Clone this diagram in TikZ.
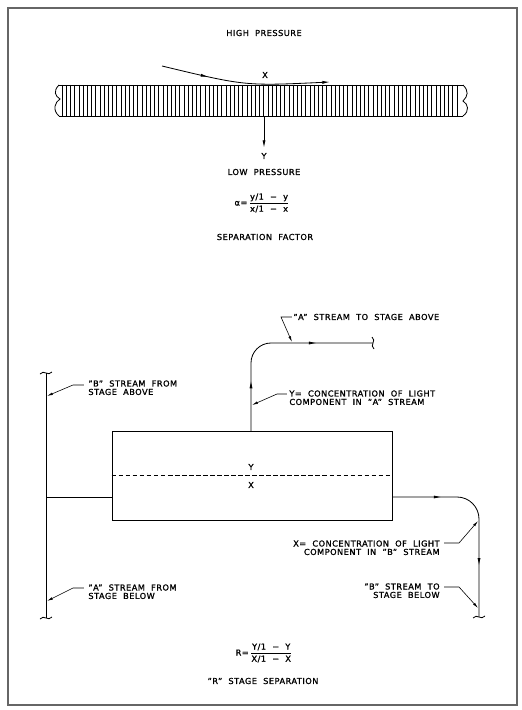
\documentclass[tikz,border=0pt]{standalone}
\usepackage{fontspec}
\setmainfont{DejaVu Sans}[LetterSpace=6,WordSpace=2,FakeBold=1.2]
\usetikzlibrary{arrows.meta,decorations.markings}

\tikzset{
  lbl/.style={inner sep=0pt, font=\fontsize{7}{7.2}\selectfont},
  lead/.style={line width=0.5pt, shorten <=1pt, -{Latex[length=5pt,width=2.2pt]}},
  flowmarks/.style 2 args={postaction={decorate},
    decoration={markings,
      mark=at position #1 with {\arrow{Latex[length=6.5pt,width=2.6pt]}},
      mark=at position #2 with {\arrow{Latex[length=6.5pt,width=2.6pt]}}}},
  brk/.pic={\draw[line width=0.7pt] (-6,1) .. controls (-2,-4) and (2,4) .. (6,-1);}
}

\begin{document}
\begin{tikzpicture}[x=0.03cm, y=-0.03cm, line width=0.7pt]
    \useasboundingbox (0,0) rectangle (521,710);
    \draw[line width=1.6pt, black!60] (8,8) rectangle (517,705);

    % membrane
    \node[lbl] (high) at (264,33) {HIGH PRESSURE};
    \draw (59,85) -- (463,85);
    \draw (59,116) -- (463,116);
    \foreach \i in {62,66.2,...,459}
      \draw[line width=0.45pt] (\i,85) -- (\i,116);
    \draw (59,85) .. controls (53,91) and (55,96) .. (60,99)
      .. controls (55,102) and (52,110) .. (59,116);
    \draw (463,85) .. controls (469,91) and (468,96) .. (463,101)
      .. controls (468,104) and (470,111) .. (463,116);
    \coordinate (xs) at (162,66);
    \coordinate (xe) at (330,82);
    \draw[postaction={decorate},
      decoration={markings,mark=at position 0.28 with {\arrow{Latex[length=6.5pt,width=2.6pt]}}},
      -{Latex[length=6.5pt,width=2.6pt]}] (xs) .. controls (245,86) .. (xe);
    \node[lbl] (xtop) at (265,75) {X};
    \coordinate (ys) at (264,116);
    \node[lbl] (ybot) at (264,156) {Y};
    \draw[shorten >=4pt, -{Latex[length=6.5pt,width=2.6pt]}] (ys) -- (ybot.north);
    \node[lbl] (low) at (264,172) {LOW PRESSURE};
    \node[lbl] (alpha) at (262,203) {α=\,$\displaystyle\frac{\mbox{y/1 − y}}{\mbox{x/1 − x}}$};
    \node[lbl] (sepf) at (265,237) {SEPARATION FACTOR};

    % stage
    \node[draw, minimum width=8.4cm, minimum height=2.67cm, inner sep=0pt] (stage) at (252,475.5) {};
    \draw[dash pattern=on 4pt off 2pt] (stage.west) -- (stage.east);
    \node[lbl] (ymid) at (251,467) {Y};
    \node[lbl] (xmid) at (251,485) {X};

    \coordinate (bt) at (46,373);
    \coordinate (bb) at (46,618);
    \coordinate (feed) at (46,497);
    \draw (bt) -- (bb);
    \pic at (bt) {brk};
    \pic at (bb) {brk};
    \draw (feed) -- (feed -| stage.west);

    \coordinate (aout) at (251,431);
    \coordinate (aend) at (373,343);
    \draw[rounded corners=0.6cm, flowmarks={0.25}{0.72}] (aout) |- (aend);
    \pic[rotate=90] at (aend) {brk};

    \coordinate (bout) at (392,497);
    \coordinate (bend) at (479,617);
    \draw[rounded corners=0.66cm, flowmarks={0.25}{0.74}] (bout) -| (bend);
    \pic at (bend) {brk};

    % labels and leaders
    \node[lbl, anchor=west] (ta) at (293,317) {"A" STREAM TO STAGE ABOVE};
    \coordinate (ka) at (281,317);
    \coordinate (pa) at (292,342);
    \draw[lead] (ta.west) -- (ka) -- (pa);

    \node[lbl, anchor=north west, align=left] (ty) at (289,390)
      {Y= CONCENTRATION OF LIGHT\\COMPONENT IN "A" STREAM};
    \coordinate (ky0) at (288,394);
    \coordinate (ky1) at (277,394);
    \coordinate (py) at (252,405);
    \draw[lead] (ky0) -- (ky1) -- (py);

    \node[lbl, anchor=north east, align=right] (tx) at (440,540)
      {X= CONCENTRATION OF LIGHT\\COMPONENT IN "B" STREAM};
    \coordinate (kx0) at (443,543);
    \coordinate (kx1) at (459,543);
    \coordinate (px) at (478,521);
    \draw[lead] (kx0) -- (kx1) -- (px);

    \node[lbl, anchor=north east, align=right] (tb) at (440,583)
      {"B" STREAM TO\\STAGE BELOW};
    \coordinate (kb0) at (443,587);
    \coordinate (kb1) at (459,587);
    \coordinate (pb) at (478,608);
    \draw[lead] (kb0) -- (kb1) -- (pb);

    \node[lbl, anchor=north west, align=left] (tbf) at (88,380)
      {"B" STREAM FROM\\STAGE ABOVE};
    \coordinate (kbf0) at (85,385);
    \coordinate (kbf1) at (73,385);
    \coordinate (pbf) at (47,396);
    \draw[lead] (kbf0) -- (kbf1) -- (pbf);

    \node[lbl, anchor=north west, align=left] (taf) at (88,584)
      {"A" STREAM FROM\\STAGE BELOW};
    \coordinate (kaf0) at (85,588);
    \coordinate (kaf1) at (73,588);
    \coordinate (paf) at (47,601);
    \draw[lead] (kaf0) -- (kaf1) -- (paf);

    \node[lbl] (rform) at (264,653) {R=\,$\displaystyle\frac{\mbox{Y/1 − Y}}{\mbox{X/1 − X}}$};
    \node[lbl] (rsep) at (263,681) {"R" STAGE SEPARATION};
  \end{tikzpicture}
\end{document}
